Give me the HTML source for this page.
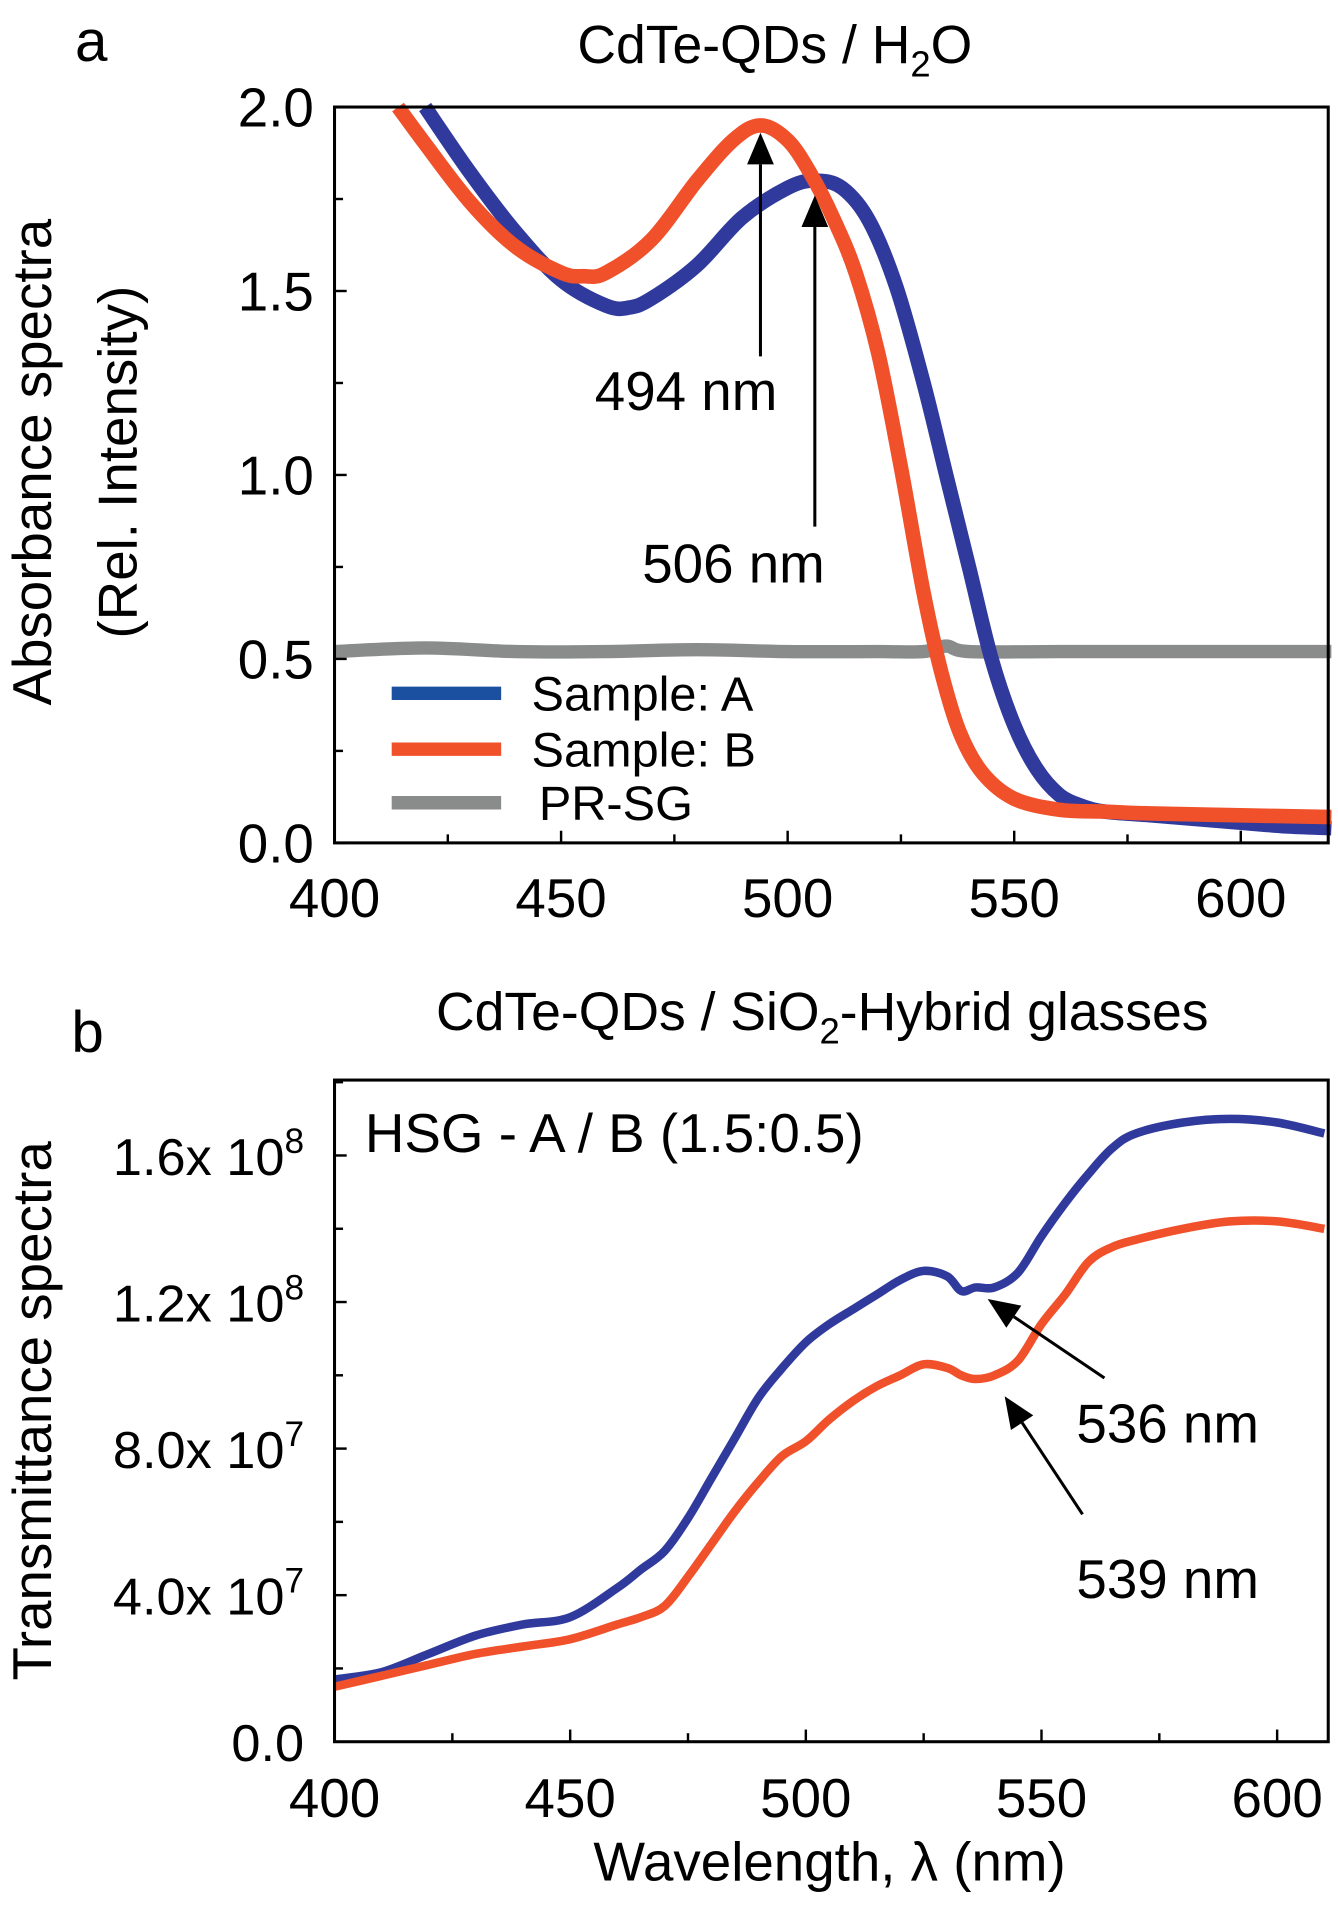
<!DOCTYPE html>
<html><head><meta charset="utf-8">
<style>
html,body{margin:0;padding:0;background:#fff;}
svg{display:block;font-family:"Liberation Sans",Arial,sans-serif;}
</style></head>
<body>
<svg id="fig" width="1338" height="1912" viewBox="0 0 1100 1572" xmlns="http://www.w3.org/2000/svg">
<g id="pa"></g>
<g id="pb"></g>
</svg>
<script>
// Panel a data
const aXA = [420,430,440,450,460,465,470,480,490,500,506,512,518,524,530,535,540,545,550,555,560,565,570,580,590,600,610,620];
const aYA = [2.00,1.82,1.66,1.53,1.46,1.455,1.48,1.57,1.70,1.78,1.80,1.78,1.69,1.51,1.25,1.00,0.75,0.50,0.32,0.20,0.13,0.10,0.085,0.075,0.065,0.055,0.045,0.04];
const aXB = [414,420,430,440,450,455,460,470,480,488,494,500,505,510,515,520,525,530,534,538,543,550,560,570,580,600,620];
const aYB = [2.00,1.90,1.74,1.62,1.55,1.54,1.55,1.64,1.80,1.91,1.95,1.91,1.82,1.70,1.55,1.33,1.02,0.68,0.46,0.30,0.19,0.12,0.09,0.085,0.08,0.075,0.07];
const aXG = [400,420,440,460,480,500,520,530,535,540,560,580,600,620];
const aYG = [0.52,0.53,0.52,0.52,0.525,0.52,0.52,0.52,0.535,0.52,0.52,0.52,0.52,0.52];
const aXTicks = [400,450,500,550,600];
const aYTicks = [0.0,0.5,1.0,1.5,2.0];
// Panel b data
const bX = [400,410,420,430,440,450,460,465,470,475,480,485,490,495,500,505,510,515,520,525,530,533,536,540,545,550,555,560,565,570,580,590,600,610];
const bYA = [1.7e7,1.9e7,2.4e7,2.9e7,3.2e7,3.4e7,4.2e7,4.7e7,5.2e7,6.1e7,7.2e7,8.3e7,9.4e7,1.02e8,1.09e8,1.14e8,1.18e8,1.22e8,1.26e8,1.285e8,1.27e8,1.23e8,1.24e8,1.24e8,1.28e8,1.38e8,1.47e8,1.55e8,1.62e8,1.66e8,1.69e8,1.70e8,1.69e8,1.66e8];
const bYB = [1.5e7,1.8e7,2.1e7,2.4e7,2.6e7,2.8e7,3.2e7,3.4e7,3.7e7,4.5e7,5.4e7,6.3e7,7.1e7,7.8e7,8.2e7,8.8e7,9.3e7,9.7e7,1.0e8,1.03e8,1.02e8,1.0e8,0.99e8,1.0e8,1.04e8,1.14e8,1.22e8,1.31e8,1.35e8,1.37e8,1.40e8,1.42e8,1.42e8,1.40e8];
const bXTicks = [400,450,500,550,600];
const bYTicks = [0,4e7,8e7,1.2e8,1.6e8];
const bYTickLabels = ["0.0","4.0x 10","8.0x 10","1.2x 10","1.6x 10"];
const bYTickExp = ["","7","7","8","8"];

const NS="http://www.w3.org/2000/svg";
function mk(parent,tag,attrs,text){const e=document.createElementNS(NS,tag);for(const k in attrs)e.setAttribute(k,attrs[k]);if(text!==undefined)e.textContent=text;parent.appendChild(e);return e;}
function pathD(xs,ys,sx,sy){
 const P=xs.map((x,i)=>[sx(x),sy(ys[i])]);
 let d="M"+P[0][0].toFixed(1)+","+P[0][1].toFixed(1);
 for(let i=0;i<P.length-1;i++){
  const p0=P[Math.max(0,i-1)],p1=P[i],p2=P[i+1],p3=P[Math.min(P.length-1,i+2)];
  const c1=[p1[0]+(p2[0]-p0[0])/6,p1[1]+(p2[1]-p0[1])/6],c2=[p2[0]-(p3[0]-p1[0])/6,p2[1]-(p3[1]-p1[1])/6];
  d+=" C"+c1[0].toFixed(1)+","+c1[1].toFixed(1)+" "+c2[0].toFixed(1)+","+c2[1].toFixed(1)+" "+p2[0].toFixed(1)+","+p2[1].toFixed(1);
 }
 return d;}

// ---- Panel a ----
const pa=document.getElementById('pa');
const aL=275,aR=1092,aT=88,aB=693;
const axA=v=>aL+(v-400)*(aR-aL)/(619.3-400);
const ayA=v=>aB-(v/2.0)*(aB-aT);
let t;
t=mk(pa,'text',{x:75,y:50,'font-size':48,'text-anchor':'middle'},'a');

t=mk(pa,'text',{x:637,y:52,'font-size':44,'text-anchor':'middle'});

t.innerHTML='CdTe-QDs / H<tspan font-size="30" dy="11">2</tspan><tspan dy="-11">O</tspan>';
t=mk(pa,'text',{x:0,y:0,'font-size':45,'text-anchor':'middle',transform:'translate(42,380) rotate(-90)'},'Absorbance spectra');

t=mk(pa,'text',{x:0,y:0,'font-size':45,'text-anchor':'middle',transform:'translate(112,380) rotate(-90)'},'(Rel. Intensity)');

let p;
p=mk(pa,'path',{d:pathD(aXG,aYG,axA,ayA),fill:'none',stroke:'#8a8c8c','stroke-width':11});

p=mk(pa,'path',{d:pathD(aXA,aYA,axA,ayA),fill:'none',stroke:'#303a9c','stroke-width':12,'stroke-linejoin':'round'});

p=mk(pa,'path',{d:pathD(aXB,aYB,axA,ayA),fill:'none',stroke:'#f0502a','stroke-width':12,'stroke-linejoin':'round'});

let r=mk(pa,'rect',{x:aL,y:aT,width:aR-aL,height:aB-aT,fill:'none',stroke:'#000','stroke-width':2.5});

for(let v=400;v<=600;v+=25){mk(pa,'line',{x1:axA(v),x2:axA(v),y1:aB,y2:aB-(v%50?7:10),stroke:'#000','stroke-width':2});}
for(let v=0;v<=2.0;v+=0.25){mk(pa,'line',{x1:aL,x2:aL+(Math.abs(v*2-Math.round(v*2))>0.01?7:10),y1:ayA(v),y2:ayA(v),stroke:'#000','stroke-width':2});}
aXTicks.forEach(v=>{const e=mk(pa,'text',{x:axA(v),y:754,'font-size':45,'text-anchor':'middle'},String(v));});
aYTicks.forEach(v=>{const e=mk(pa,'text',{x:258,y:ayA(v)+16,'font-size':45,'text-anchor':'end'},v.toFixed(1));});
function arrow(g,x1,y1,x2,y2,name){const gg=mk(g,'g',{});
 const ang=Math.atan2(y2-y1,x2-x1),L=26,W=11;const bx=x2-L*Math.cos(ang),by=y2-L*Math.sin(ang);
 mk(gg,'line',{x1:x1,y1:y1,x2:bx,y2:by,stroke:'#000','stroke-width':2.5});
 mk(gg,'polygon',{points:`${x2},${y2} ${bx+W*Math.sin(ang)},${by-W*Math.cos(ang)} ${bx-W*Math.sin(ang)},${by+W*Math.cos(ang)}`,fill:'#000'});}
arrow(pa,axA(494),293,axA(494),ayA(1.93),'arrow-494');
arrow(pa,axA(506),433,axA(506),ayA(1.76),'arrow-506');
t=mk(pa,'text',{x:564,y:337,'font-size':45,'text-anchor':'middle'},'494 nm');
t=mk(pa,'text',{x:603,y:479,'font-size':45,'text-anchor':'middle'},'506 nm');
const lg=mk(pa,'g',{});
[['#1b50a0','Sample: A',570,437],['#f0502a','Sample: B',616,437],['#8a8c8c','PR-SG',660,443]].forEach(d=>{
 const e=mk(lg,'g',{});
 mk(e,'line',{x1:322,x2:412,y1:d[2],y2:d[2],stroke:d[0],'stroke-width':11});
 mk(e,'text',{x:d[3],y:d[2]+14,'font-size':40},d[1]);});

// ---- Panel b ----
const pb=document.getElementById('pb');
const bL=275,bR=1092,bT=888,bB=1432;
const bxS=v=>bL+(v-400)*3.875;
const byS=v=>bB-v/4e7*120.5;
t=mk(pb,'text',{x:72,y:865,'font-size':48,'text-anchor':'middle'},'b');
t=mk(pb,'text',{x:676,y:847,'font-size':44,'text-anchor':'middle'});
t.innerHTML='CdTe-QDs / SiO<tspan font-size="30" dy="11">2</tspan><tspan dy="-11">-Hybrid glasses</tspan>';
t=mk(pb,'text',{x:0,y:0,'font-size':45,'text-anchor':'middle',transform:'translate(42,1160) rotate(-90)'},'Transmittance spectra');
t=mk(pb,'text',{x:682,y:1546,'font-size':45,'text-anchor':'middle'},'Wavelength, λ (nm)');
p=mk(pb,'path',{d:pathD(bX,bYA,bxS,byS),fill:'none',stroke:'#303a9c','stroke-width':7,'stroke-linejoin':'round'});
p=mk(pb,'path',{d:pathD(bX,bYB,bxS,byS),fill:'none',stroke:'#f0502a','stroke-width':7,'stroke-linejoin':'round'});
r=mk(pb,'rect',{x:bL,y:bT,width:bR-bL,height:bB-bT,fill:'none',stroke:'#000','stroke-width':2.5});
for(let v=400;v<=600;v+=25){mk(pb,'line',{x1:bxS(v),x2:bxS(v),y1:bB,y2:bB-(v%50?7:10),stroke:'#000','stroke-width':2});}
for(let v=0;v<=1.8e8;v+=2e7){mk(pb,'line',{x1:bL,x2:bL+((v/2e7)%2?7:10),y1:byS(v),y2:byS(v),stroke:'#000','stroke-width':2});}
bXTicks.forEach(v=>{const e=mk(pb,'text',{x:bxS(v),y:1494,'font-size':45,'text-anchor':'middle'},String(v));});
bYTicks.forEach((v,i)=>{const e=mk(pb,'text',{x:250,y:byS(v)+16,'font-size':43,'text-anchor':'end'});
 if(bYTickExp[i]){e.innerHTML=bYTickLabels[i]+'<tspan font-size="29" dy="-18">'+bYTickExp[i]+'</tspan>';}else{e.textContent=bYTickLabels[i];}});
t=mk(pb,'text',{x:300,y:947,'font-size':45},'HSG - A / B (1.5:0.5)');
arrow(pb,908,1133,812,1068,'arrow-536');
arrow(pb,890,1245,826,1148,'arrow-539');
t=mk(pb,'text',{x:960,y:1186,'font-size':45,'text-anchor':'middle'},'536 nm');
t=mk(pb,'text',{x:960,y:1314,'font-size':45,'text-anchor':'middle'},'539 nm');
</script>
</body></html>
